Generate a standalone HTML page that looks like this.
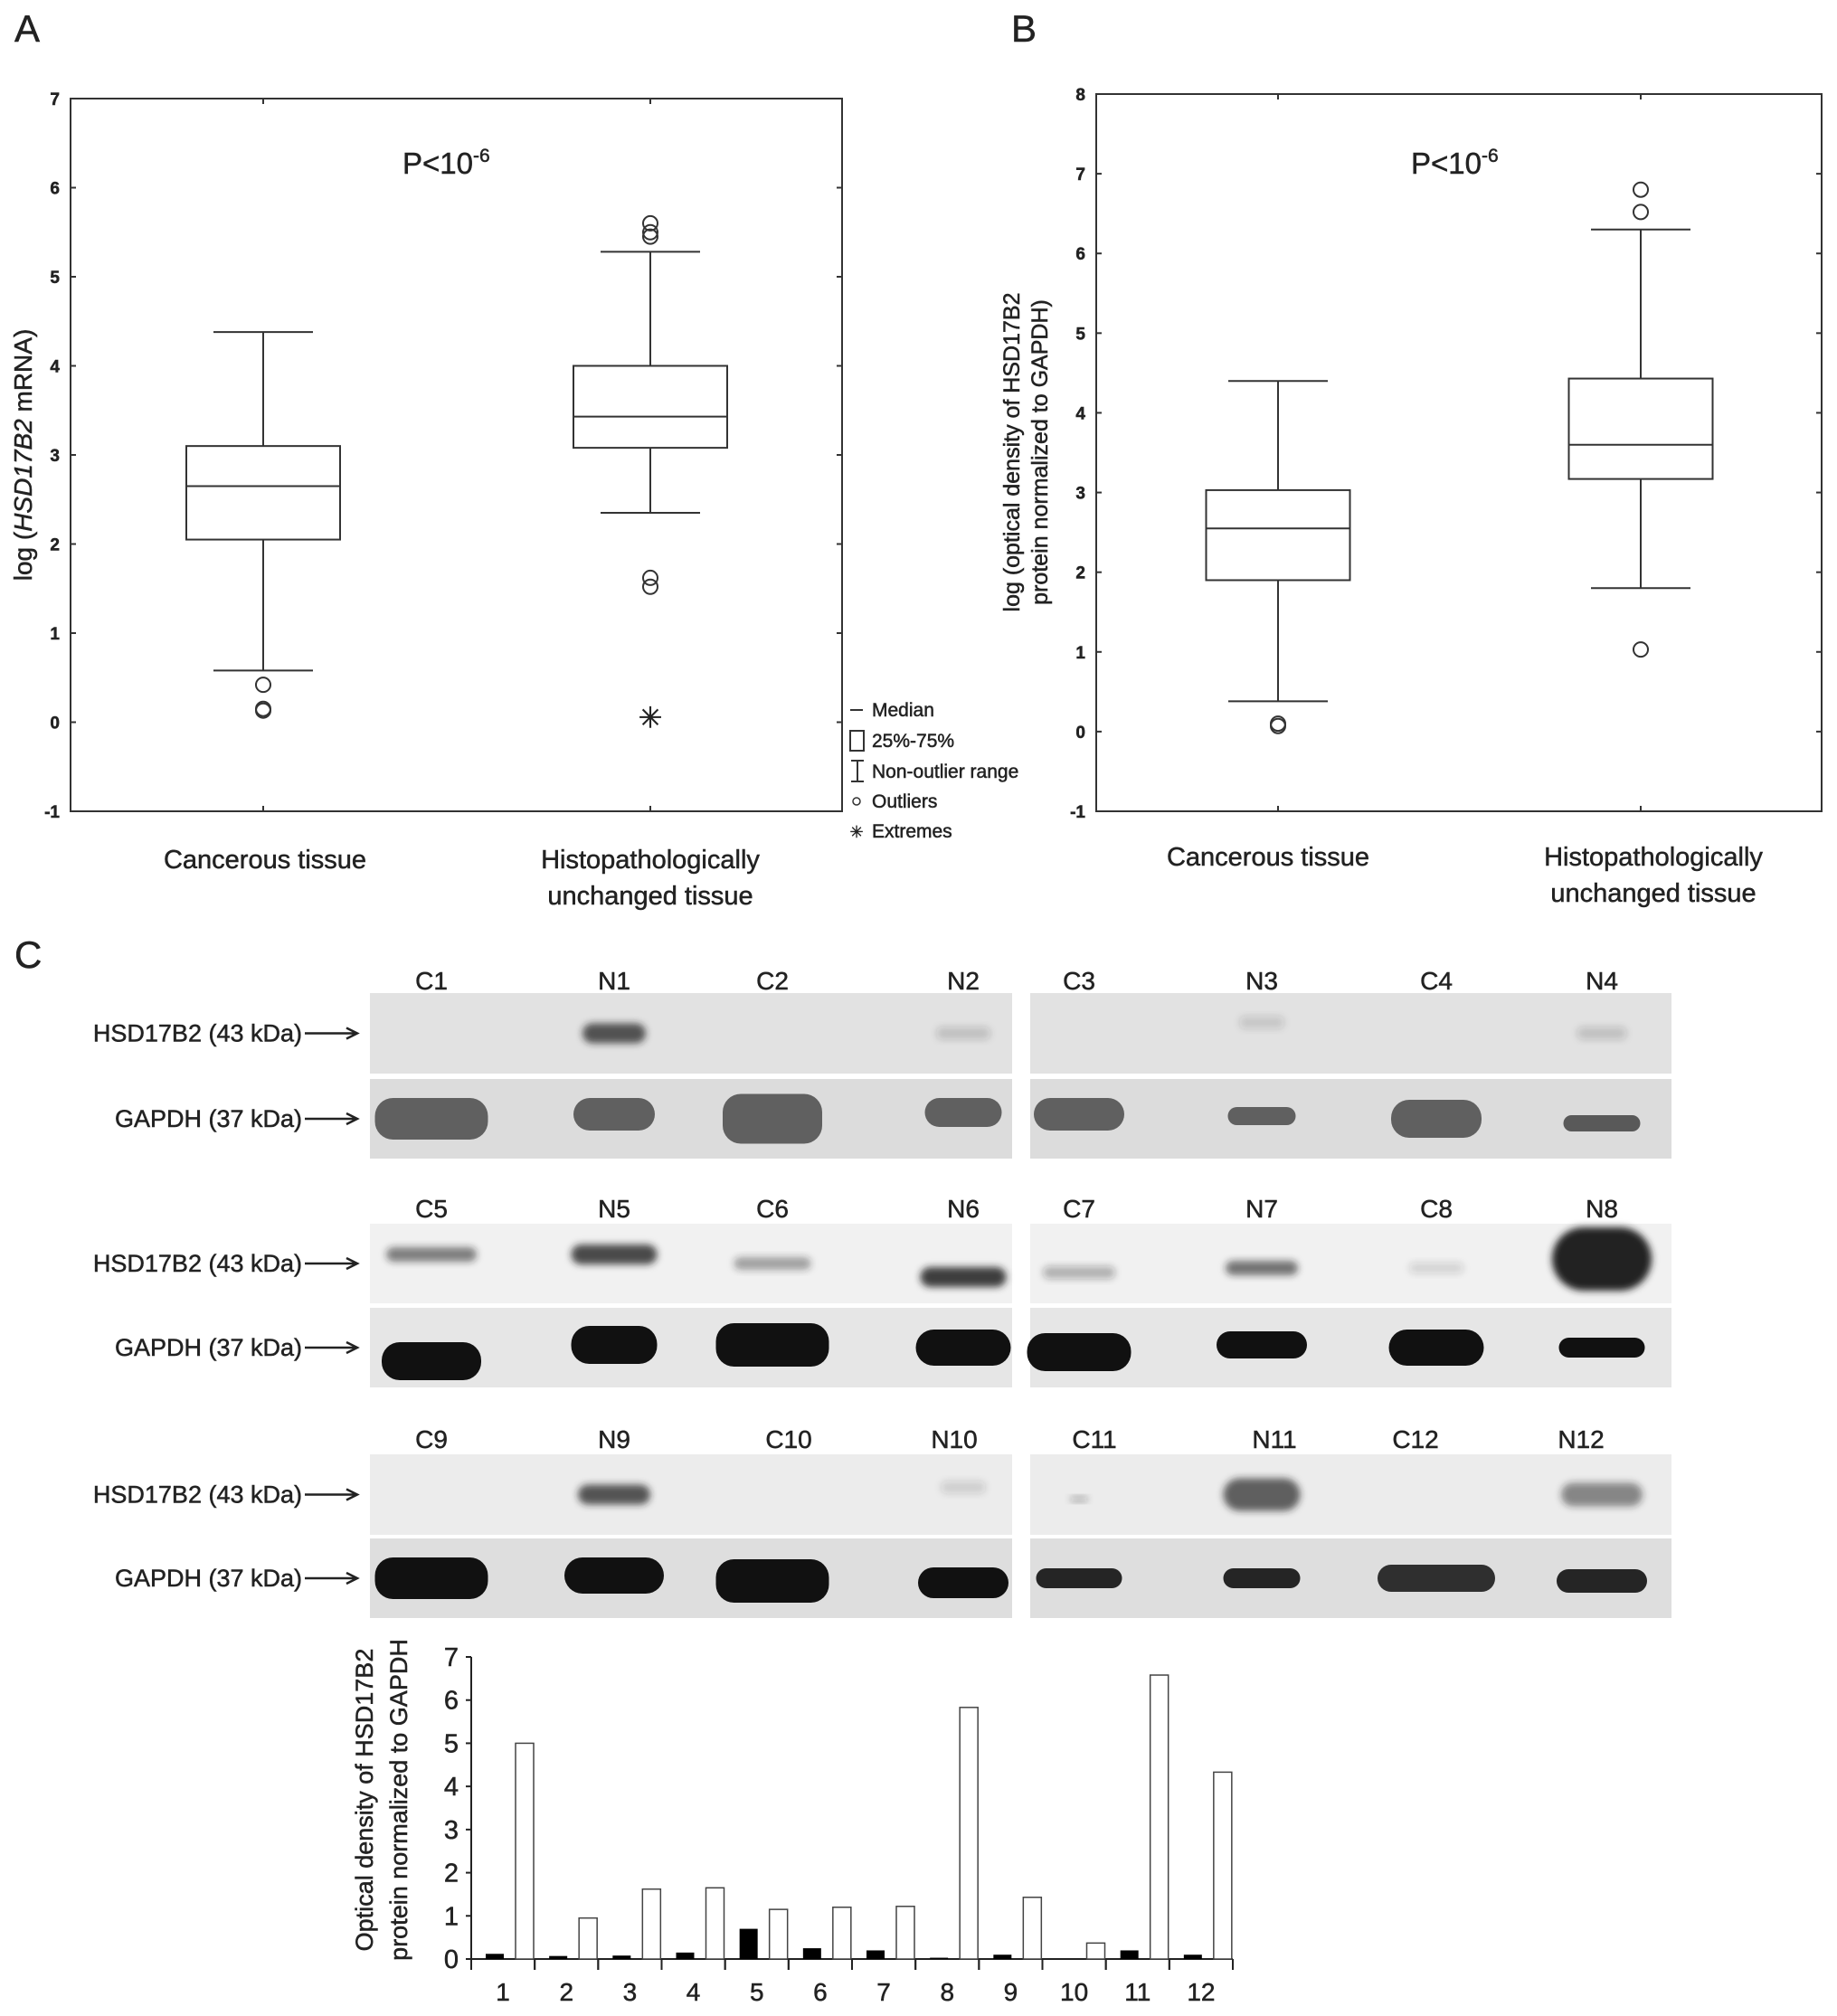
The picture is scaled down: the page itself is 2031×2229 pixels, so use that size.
<!DOCTYPE html>
<html><head><meta charset="utf-8"><style>
html,body{margin:0;padding:0;background:#fff}
svg{display:block}
text{font-family:"Liberation Sans",Arial,sans-serif;fill:#222;stroke:#222;stroke-width:0.5}
</style></head><body>
<svg id="fig" width="2031" height="2229" viewBox="0 0 2031 2229" xmlns="http://www.w3.org/2000/svg">
<defs><filter id="blur" x="-30%" y="-50%" width="160%" height="200%"><feGaussianBlur stdDeviation="4"/></filter></defs>
<text x="16" y="46" font-size="42">A</text>
<text x="1118" y="46" font-size="42">B</text>
<text x="16" y="1070" font-size="42">C</text>
<g id="pa"></g>
<g id="pb"></g>
<g id="blots"></g>
<g id="pc"></g>
</svg>
<script>
const NS="http://www.w3.org/2000/svg";
function mk(p,t,a,txt){const e=document.createElementNS(NS,t);for(const k in a)e.setAttribute(k,a[k]);if(txt!==undefined)e.textContent=txt;p.appendChild(e);return e;}

// ---- Panel A data
const catsA=["Cancerous tissue","Histopathologically unchanged tissue"];
const statsA=[[0.58,2.05,2.65,3.1,4.38],[2.35,3.08,3.43,4.0,5.28]];
const outA=[[0.42,0.15,0.13],[5.6,5.5,5.45,1.62,1.52]];
const extA=[[],[0.07]];
const ticksA=[-1,0,1,2,3,4,5,6,7];
// ---- Panel B data
const statsB=[[0.38,1.9,2.55,3.03,4.4],[1.8,3.17,3.6,4.43,6.3]];
const outB=[[0.1,0.07],[6.8,6.52,1.03]];
const extB=[[],[]];
const ticksB=[-1,0,1,2,3,4,5,6,7,8];

function boxplot(g,cfg){
  const {x0,x1,y0,y1,vmin,vmax,stats,outs,exts,ticks,cx,bw}=cfg;
  const Y=v=>y1-(v-vmin)/(vmax-vmin)*(y1-y0);
  const r=mk(g,'rect',{x:x0,y:y0,width:x1-x0,height:y1-y0,fill:'none',stroke:'#333','stroke-width':2});
  
  ticks.forEach(t=>{
    mk(g,'line',{x1:x0,x2:x0+6,y1:Y(t),y2:Y(t),stroke:'#333','stroke-width':2});
    mk(g,'line',{x1:x1,x2:x1-6,y1:Y(t),y2:Y(t),stroke:'#333','stroke-width':2});
    const tl=mk(g,'text',{x:x0-12,y:Y(t)+7,'font-size':19,'font-weight':'bold','text-anchor':'end'},t);
    
  });
  stats.forEach((s,i)=>{
    const c=cx[i];
    mk(g,'line',{x1:c,x2:c,y1:y0,y2:y0+6,stroke:'#333','stroke-width':2});
    mk(g,'line',{x1:c,x2:c,y1:y1,y2:y1-6,stroke:'#333','stroke-width':2});
    const bg=mk(g,'g',{});
    
    const st={stroke:'#333','stroke-width':2,fill:'none'};
    mk(bg,'line',Object.assign({x1:c,x2:c,y1:Y(s[4]),y2:Y(s[3])},st));
    mk(bg,'line',Object.assign({x1:c,x2:c,y1:Y(s[1]),y2:Y(s[0])},st));
    mk(bg,'line',Object.assign({x1:c-55,x2:c+55,y1:Y(s[4]),y2:Y(s[4])},st));
    mk(bg,'line',Object.assign({x1:c-55,x2:c+55,y1:Y(s[0]),y2:Y(s[0])},st));
    mk(bg,'rect',Object.assign({x:c-bw/2,y:Y(s[3]),width:bw,height:Y(s[1])-Y(s[3])},st));
    mk(bg,'line',Object.assign({x1:c-bw/2,x2:c+bw/2,y1:Y(s[2]),y2:Y(s[2])},st));
    outs[i].forEach(v=>{const o=mk(bg,'circle',{cx:c,cy:Y(v),r:8,fill:'none',stroke:'#333','stroke-width':2});
      });
    exts[i].forEach(v=>{const e=mk(bg,'text',{x:c,y:Y(v)+13,'font-size':32,'text-anchor':'middle'},'✳');
      });
  });
}
const pa=document.getElementById('pa');
boxplot(pa,{x0:78,x1:931,y0:109,y1:897,vmin:-1,vmax:7,stats:statsA,outs:outA,exts:extA,ticks:ticksA,cx:[291,719],bw:170});
const pb=document.getElementById('pb');
boxplot(pb,{x0:1212,x1:2014,y0:104,y1:897,vmin:-1,vmax:8,stats:statsB,outs:outB,exts:extB,ticks:ticksB,cx:[1413,1814],bw:159});

function t(g,x,y,s,txt,name,anchor,extra){const e=mk(g,'text',Object.assign({x:x,y:y,'font-size':s,'text-anchor':anchor||'middle'},extra||{}),txt);return e;}
// P labels
let p=t(pa,445,192,33,'P<10','p-value-a','start');mk(p,'tspan',{dy:-13,'font-size':21},'-6');
p=t(pb,1560,192,33,'P<10','p-value-b','start');mk(p,'tspan',{dy:-13,'font-size':21},'-6');
// category labels
t(pa,293,960,29,catsA[0],'x-category-label');
t(pa,719,960,29,'Histopathologically','x-category-label');
t(pa,719,1000,29,'unchanged tissue','x-category-label');
t(pb,1402,957,29,catsA[0],'x-category-label');
t(pb,1828,957,29,'Histopathologically','x-category-label');
t(pb,1828,997,29,'unchanged tissue','x-category-label');
// y titles
let yt=t(pa,0,0,28,'log (','y-axis-title','middle',{transform:'translate(35,503) rotate(-90)'});
mk(yt,'tspan',{'font-style':'italic'},'HSD17B2');mk(yt,'tspan',{},' mRNA)');
t(pb,0,0,25,'log (optical density of HSD17B2','y-axis-title','middle',{transform:'translate(1127,500) rotate(-90)'});
t(pb,0,0,25,'protein normalized to GAPDH)','y-axis-title','middle',{transform:'translate(1158,500) rotate(-90)'});
// legend
const lg=mk(pa,'g',{});
mk(lg,'line',{x1:940,x2:954,y1:785,y2:785,stroke:'#333','stroke-width':2});
t(lg,964,792,21,'Median','legend-entry','start');
mk(lg,'rect',{x:940,y:808,width:15,height:22,fill:'none',stroke:'#333','stroke-width':2});
t(lg,964,826,21,'25%-75%','legend-entry','start');
mk(lg,'path',{d:'M941 841H955M948 841V864M941 864H955',stroke:'#333','stroke-width':2,fill:'none'});
t(lg,964,860,21,'Non-outlier range','legend-entry','start');
mk(lg,'circle',{cx:947,cy:886,r:4,fill:'none',stroke:'#333','stroke-width':1.5});
t(lg,964,893,21,'Outliers','legend-entry','start');
t(lg,947,926,18,'✳','legend-extreme-symbol');
t(lg,964,926,21,'Extremes','legend-entry','start');

// ---- Blots
const bl=document.getElementById('blots');
const laneX=[477,679,854,1065,1193,1395,1588,1771];
const rowsY=[[1098,1187,1193,1281,1084],[1353,1441,1446,1534,1336],[1608,1697,1701,1789,1591]];
const laneNames=[["C1","N1","C2","N2","C3","N3","C4","N4"],["C5","N5","C6","N6","C7","N7","C8","N8"],["C9","N9","C10","N10","C11","N11","C12","N12"]];
const lblX3=[477,679,872,1055,1210,1409,1565,1748];
const hsdBands=[[[0,0,0],[70,22,.75,0],[0,0,0],[60,14,.18,0],[0,0,0],[50,14,.15,-12],[0,0,0],[55,14,.18,0]],
 [[100,16,.55,-10],[95,22,.8,-10],[85,14,.4,0],[95,22,.85,15],[80,14,.3,10],[80,16,.6,5],[60,12,.15,5],[110,70,1,-5]],
 [[0,0,0],[80,22,.75,0],[0,0,0],[50,14,.15,-8],[20,6,.3,5],[85,36,.7,0],[0,0,0],[90,26,.5,0]]];
const gBands=[[[125,46,.85,0],[90,36,.85,-5],[110,55,.85,0],[85,32,.85,-7],[100,36,.85,-5],[75,20,.85,-3],[100,42,.85,0],[85,18,.9,5]],
 [[110,42,1,15],[95,42,1,-3],[125,48,1,-3],[105,40,1,0],[115,42,1,5],[100,30,1,-3],[105,40,1,0],[95,22,1,0]],
 [[125,46,1,0],[110,40,1,-3],[125,48,1,3],[100,34,1,5],[95,22,.9,0],[85,22,.9,0],[130,30,.85,0],[100,26,.9,3]]];
const bgHsd=['#e2e2e2','#f1f1f1','#ececec'], bgG=['#dcdcdc','#e6e6e6','#dedede'];
rowsY.forEach((ry,ri)=>{
  [[409,1119],[1139,1848]].forEach(([a,b],pi)=>{
    const h=mk(bl,'rect',{x:a,y:ry[0],width:b-a,height:ry[1]-ry[0],fill:bgHsd[ri]});
    
    const gg=mk(bl,'rect',{x:a,y:ry[2],width:b-a,height:ry[3]-ry[2],fill:bgG[ri]});
    
  });
  laneX.forEach((x,li)=>{
    t(bl,ri==2?lblX3[li]:x,ry[4]+10,28,laneNames[ri][li],'lane-label');
    const hb=hsdBands[ri][li];
    if(hb[0]){const e=mk(bl,'rect',{x:x-hb[0]/2,y:(ry[0]+ry[1])/2+hb[3]-hb[1]/2,width:hb[0],height:hb[1],rx:hb[1]/2,fill:'#222','fill-opacity':hb[2],filter:'url(#blur)'});
      }
    const gb=gBands[ri][li];
    const e=mk(bl,'rect',{x:x-gb[0]/2,y:(ry[2]+ry[3])/2+gb[3]-gb[1]/2,width:gb[0],height:gb[1],rx:Math.min(gb[1]/2,20),fill:ri==0?'#4a4a4a':'#111','fill-opacity':gb[2]});
    
  });
  t(bl,334,(ry[0]+ry[1])/2+9,27,'HSD17B2 (43 kDa)','hsd17b2-row-label','end');
  t(bl,334,(ry[2]+ry[3])/2+9,27,'GAPDH (37 kDa)','gapdh-row-label','end');
  [(ry[0]+ry[1])/2,(ry[2]+ry[3])/2].forEach(y=>{
    const ar=mk(bl,'path',{d:`M337 ${y}H393M383 ${y-6}L395 ${y}L383 ${y+6}`,stroke:'#222','stroke-width':2.5,fill:'none'});
    
  });
});

// ---- Panel C bar chart
const barCats=["1","2","3","4","5","6","7","8","9","10","11","12"];
const cancerVals=[0.12,0.07,0.08,0.15,0.7,0.25,0.2,0.03,0.1,0,0.2,0.1];
const normalVals=[5.0,0.95,1.62,1.65,1.15,1.2,1.22,5.83,1.43,0.37,6.58,4.33];
const barTicks=[0,1,2,3,4,5,6,7];
const pc=document.getElementById('pc');
const bx0=521,bx1=1363,by0=2166,by7=1832;
const BY=v=>by0-v/7*(by0-by7);
const bw=(bx1-bx0)/barCats.length;
const ax=mk(pc,'path',{d:`M${bx0} ${by7}V${by0}H${bx1}`,stroke:'#222','stroke-width':2,fill:'none'});

barTicks.forEach(v=>{mk(pc,'line',{x1:bx0-6,x2:bx0,y1:BY(v),y2:BY(v),stroke:'#222','stroke-width':2});
  t(pc,bx0-14,BY(v)+10,29,String(v),'bar-y-tick-label','end');});
barCats.forEach((c,i)=>{
  const x=bx0+i*bw;
  mk(pc,'line',{x1:x+bw,x2:x+bw,y1:by0,y2:by0+12,stroke:'#222','stroke-width':2});
  mk(pc,'line',{x1:x,x2:x,y1:by0,y2:by0+12,stroke:'#222','stroke-width':2});
  const b1=mk(pc,'rect',{x:x+16,y:BY(cancerVals[i]),width:20,height:by0-BY(cancerVals[i]),fill:'#000'});
  
  const b2=mk(pc,'rect',{x:x+49,y:BY(normalVals[i]),width:20,height:by0-BY(normalVals[i]),fill:'#fff',stroke:'#444','stroke-width':1.5});
  
  t(pc,x+bw/2,by0+46,28,c,'bar-x-tick-label');
});
t(pc,0,0,27,'Optical density of HSD17B2','bar-y-axis-title','middle',{transform:'translate(412,1990) rotate(-90)'});
t(pc,0,0,27,'protein normalized to GAPDH','bar-y-axis-title','middle',{transform:'translate(450,1990) rotate(-90)'});
</script>
</body></html>
